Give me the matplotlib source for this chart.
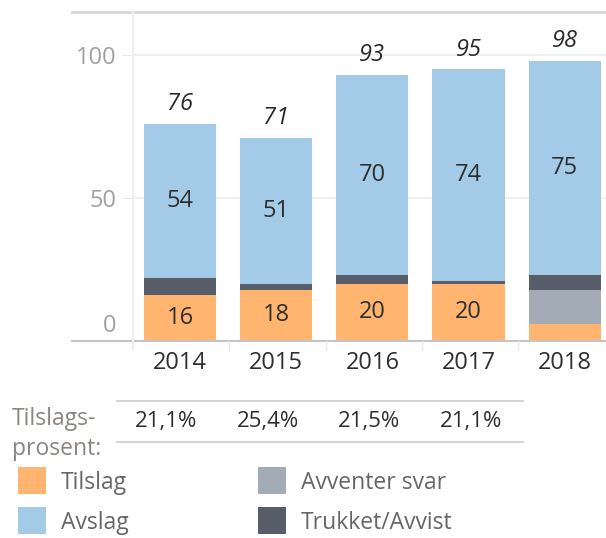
import numpy as np
import matplotlib.pyplot as plt
from matplotlib.lines import Line2D
from matplotlib.patches import Rectangle
from matplotlib.transforms import ScaledTranslation

plt.rcParams['font.family'] = ['Open Sans', 'DejaVu Sans']

# Data
years = ['2014', '2015', '2016', '2017', '2018']
tilslag = [16, 18, 20, 20, 6]
avventer = [0, 0, 0, 0, 12]
trukket = [6, 2, 3, 1, 5]
avslag = [54, 51, 70, 74, 75]
tilslagsprosent = ['21,1%', '25,4%', '21,5%', '21,1%']

series_names = ['Tilslag', 'Avventer svar', 'Avslag', 'Trukket/Avvist']
colors = {'Tilslag': '#ffb56f', 'Avventer svar': '#a2abb6',
          'Trukket/Avvist': '#575d69', 'Avslag': '#a3cbe7'}

W, H = 606, 538
fig = plt.figure(figsize=(W / 100, H / 100), dpi=100)


def fx(px):
    return px / W


def fy(py):
    return 1 - py / H


ax = fig.add_axes([fx(133), fy(341), fx(606) - fx(133), fy(12) - fy(341)])

x = np.arange(len(years))
width = 0.75
stack = [('Tilslag', tilslag), ('Avventer svar', avventer),
         ('Trukket/Avvist', trukket), ('Avslag', avslag)]
bottom = np.zeros(len(years))
for name, vals in stack:
    vals = np.array(vals, dtype=float)
    ax.bar(x, vals, width, bottom=bottom, color=colors[name], linewidth=0, zorder=2)
    if name in ('Tilslag', 'Avslag'):
        for xi, b, v in zip(x, bottom, vals):
            if v >= 10:
                ax.text(xi, b + v / 2, f'{int(v)}', ha='center', va='center',
                        fontsize=17, color='#2e2e2e', zorder=3)
    bottom += vals

totals = bottom
for xi, t in zip(x, totals):
    ax.annotate(f'{int(t)}', (xi, t), xytext=(0, 14), textcoords='offset points',
                ha='center', va='center', fontsize=17, style='italic', color='#2a2a2a')

ax.set_xlim(-0.49, 4.43)
ax.set_ylim(0, 115)
ax.set_yticks([0, 50, 100])
ax.set_yticklabels(['0', '50', '100'], fontsize=17, color='#a0a0a0')
ax.tick_params(axis='y', length=8, color='#e8e8e8', pad=4)
ax.set_xticks(x)
ax.set_xticklabels(years, fontsize=17, color='#2e2e2e')
ax.tick_params(axis='x', length=0, pad=7)
for lab in ax.get_yticklabels():
    if lab.get_text() == '0':
        lab.set_transform(lab.get_transform() + ScaledTranslation(0, 0.18, fig.dpi_scale_trans))
ax.grid(axis='y', color='#ececec', linewidth=1.2, zorder=0)
for s in ax.spines.values():
    s.set_visible(False)

# frame lines drawn in figure pixels
def hline(y, x0, x1, color, lw):
    fig.add_artist(Line2D([fx(x0), fx(x1)], [fy(y), fy(y)], color=color, lw=lw))


def vline(xp, y0, y1, color, lw):
    fig.add_artist(Line2D([fx(xp), fx(xp)], [fy(y0), fy(y1)], color=color, lw=lw))


hline(12, 72, 606, '#d6d6d6', 2)
hline(341, 72, 606, '#c4c4c4', 1.5)
vline(133, 12, 350, '#eeeeee', 1.5)
for xp in [229, 326, 422, 518]:
    vline(xp, 341, 350, '#e6e6e6', 1)

# table of Tilslagsprosent
hline(401, 117, 523, '#d4d4d4', 1.5)
hline(442, 117, 523, '#d4d4d4', 1.5)
fig.text(fx(12), fy(419), 'Tilslags-', fontsize=16.5, color='#8a8580', va='center', ha='left')
fig.text(fx(12), fy(449), 'prosent:', fontsize=16.5, color='#8a8580', va='center', ha='left')
for i, p in enumerate(tilslagsprosent):
    fig.text(fx(166 + 101.7 * i), fy(422), p, fontsize=16, color='#2e2e2e',
             ha='center', va='center')

# legend
legend_pos = {'Tilslag': (18, 467), 'Avslag': (18, 507),
              'Avventer svar': (258, 467), 'Trukket/Avvist': (258, 507)}
for name in series_names:
    px, py = legend_pos[name]
    fig.add_artist(Rectangle((fx(px), fy(py + 27)), fx(28), 27 / H,
                             transform=fig.transFigure, color=colors[name], lw=0))
    fig.text(fx(px + 43), fy(py + 16), name, fontsize=16.5, color='#666666',
             ha='left', va='center')

fig.savefig('out.png', dpi=100)
